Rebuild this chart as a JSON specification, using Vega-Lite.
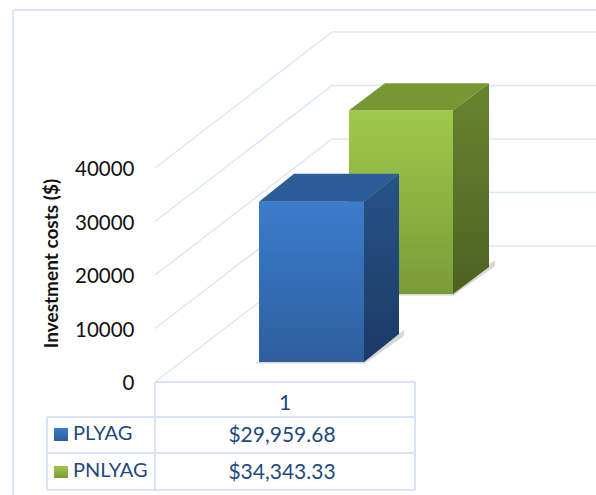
{
"$schema":"https://vega.github.io/schema/vega-lite/v6.json",
"width":441,"height":381,
"autosize":"none",
"padding":{"left":155,"top":1,"right":0,"bottom":113},
"background":"white",
"config":{"view":{"stroke":null}},
"datasets":{
"frame":[
{"h":-142,"h2":441,"v":69533,"v2":69533},
{"h":-142,"h2":-142,"v":69533,"v2":-21122}],
"grid":[
{"level":0,"h":0,"v":0},{"level":0,"h":177,"v":25421},{"level":0,"h":441,"v":25421},
{"level":10000,"h":0,"v":10000},{"level":10000,"h":177,"v":35421},{"level":10000,"h":441,"v":35421},
{"level":20000,"h":0,"v":20000},{"level":20000,"h":177,"v":45421},{"level":20000,"h":441,"v":45421},
{"level":30000,"h":0,"v":30000},{"level":30000,"h":177,"v":55421},{"level":30000,"h":441,"v":55421},
{"level":40000,"h":0,"v":40000},{"level":40000,"h":177,"v":65421},{"level":40000,"h":441,"v":65421}],
"bars":[
{"bar":"PNLYAG","face":"shadowside","h":298,"v":16075,"v2":16822},
{"bar":"PNLYAG","face":"shadowside","h":340,"v":21682,"v2":22804},
{"bar":"PNLYAG","face":"shadowfront","h":194,"h2":298,"v":16150,"v2":16449},
{"bar":"PNLYAG","face":"front","h":194,"h2":298,"v":16449,"v2":50792},
{"bar":"PNLYAG","face":"side","h":298,"v":16449,"v2":50792},
{"bar":"PNLYAG","face":"side","h":334,"v":21496,"v2":55839},
{"bar":"PNLYAG","face":"top","h":194,"h2":298,"v":50792},
{"bar":"PNLYAG","face":"top","h":230,"h2":334,"v":55839},
{"bar":"PLYAG","face":"shadowside","h":209,"v":3364,"v2":4112},
{"bar":"PLYAG","face":"shadowside","h":249,"v":8598,"v2":9720},
{"bar":"PLYAG","face":"shadowfront","h":101,"h2":209,"v":3440,"v2":3738},
{"bar":"PLYAG","face":"front","h":104,"h2":209,"v":3738,"v2":33698},
{"bar":"PLYAG","face":"side","h":209,"v":3738,"v2":33698},
{"bar":"PLYAG","face":"side","h":244,"v":8972,"v2":38932},
{"bar":"PLYAG","face":"top","h":104,"h2":209,"v":33698},
{"bar":"PLYAG","face":"top","h":139,"h2":244,"v":38932}],
"table":[
{"h":0,"h2":260,"v":0,"v2":0},
{"h":-108,"h2":260,"v":-6542,"v2":-6542},
{"h":-108,"h2":260,"v":-13271,"v2":-13271},
{"h":-108,"h2":260,"v":-20187,"v2":-20187},
{"h":-108,"h2":-108,"v":-6542,"v2":-20187},
{"h":0,"h2":0,"v":0,"v2":-20187},
{"h":260,"h2":260,"v":0,"v2":-20187}],
"swatches":[
{"bar":"PLYAG","h":-101,"h2":-87,"v":-8598,"v2":-11028},
{"bar":"PNLYAG","h":-101,"h2":-87,"v":-15701,"v2":-17944}],
"names":[
{"label":"PLYAG","h":-82,"v":-9720},
{"label":"PNLYAG","h":-82,"v":-16635}],
"cells":[
{"label":"1","h":130,"v":-4112},
{"label":"$29,959.68","h":127,"v":-10094},
{"label":"$34,343.33","h":127,"v":-17009}]
},
"encoding":{
"x":{"field":"h","type":"quantitative","axis":null,"scale":{"domain":[0,441],"nice":false,"zero":false}},
"y":{"field":"v","type":"quantitative","scale":{"domain":[0,71215],"nice":false,"zero":false},
"axis":{"values":[0,10000,20000,30000,40000],"format":"d","grid":false,"domain":false,"ticks":false,"labelPadding":21,"labelOffset":1.5,"labelFont":"Lato","labelFontSize":20.5,"labelColor":"#111111",
"title":"Investment costs ($)","titleFont":"Lato","titleFontSize":19,"titleFontWeight":"bold","titleColor":"#111111","titleX":-104,"titleY":262,"titleAngle":-90,"titleAlign":"center","titleBaseline":"middle"}}
},
"layer":[
{"data":{"name":"frame"},"mark":{"type":"rule","stroke":"#DAE7F8","strokeWidth":2},"encoding":{"x2":{"field":"h2"},"y2":{"field":"v2"}}},
{"data":{"name":"grid"},"mark":{"type":"line","stroke":"#DAE7F8","strokeWidth":1.5},"encoding":{"detail":{"field":"level"}}},

{"data":{"name":"bars"},"transform":[{"filter":"datum.bar=='PNLYAG'&&datum.face=='shadowside'"}],"mark":{"type":"area","orient":"vertical","color":"#9a9a9a","opacity":0.4},"encoding":{"y2":{"field":"v2"}}},
{"data":{"name":"bars"},"transform":[{"filter":"datum.bar=='PNLYAG'&&datum.face=='shadowfront'"}],"mark":{"type":"rect","color":"#9a9a9a","opacity":0.4},"encoding":{"x2":{"field":"h2"},"y2":{"field":"v2"}}},
{"data":{"name":"bars"},"transform":[{"filter":"datum.bar=='PNLYAG'&&datum.face=='front'"}],"mark":{"type":"rect","color":{"gradient":"linear","x1":0,"y1":0,"x2":0,"y2":1,"stops":[{"offset":0,"color":"#9FC94A"},{"offset":1,"color":"#7A9B38"}]}},"encoding":{"x2":{"field":"h2"},"y2":{"field":"v2"}}},
{"data":{"name":"bars"},"transform":[{"filter":"datum.bar=='PNLYAG'&&datum.face=='side'"}],"mark":{"type":"area","orient":"vertical","color":{"gradient":"linear","x1":0,"y1":0,"x2":0,"y2":1,"stops":[{"offset":0,"color":"#678530"},{"offset":1,"color":"#4D6122"}]}},"encoding":{"y2":{"field":"v2"}}},
{"data":{"name":"bars"},"transform":[{"filter":"datum.bar=='PNLYAG'&&datum.face=='top'"}],"mark":{"type":"area","orient":"horizontal","color":"#779734"},"encoding":{"x2":{"field":"h2"}}},

{"data":{"name":"bars"},"transform":[{"filter":"datum.bar=='PLYAG'&&datum.face=='shadowside'"}],"mark":{"type":"area","orient":"vertical","color":"#9a9a9a","opacity":0.4},"encoding":{"y2":{"field":"v2"}}},
{"data":{"name":"bars"},"transform":[{"filter":"datum.bar=='PLYAG'&&datum.face=='shadowfront'"}],"mark":{"type":"rect","color":"#9a9a9a","opacity":0.4},"encoding":{"x2":{"field":"h2"},"y2":{"field":"v2"}}},
{"data":{"name":"bars"},"transform":[{"filter":"datum.bar=='PLYAG'&&datum.face=='front'"}],"mark":{"type":"rect","color":{"gradient":"linear","x1":0,"y1":0,"x2":0,"y2":1,"stops":[{"offset":0,"color":"#3B7CCC"},{"offset":1,"color":"#2E5E9E"}]}},"encoding":{"x2":{"field":"h2"},"y2":{"field":"v2"}}},
{"data":{"name":"bars"},"transform":[{"filter":"datum.bar=='PLYAG'&&datum.face=='side'"}],"mark":{"type":"area","orient":"vertical","color":{"gradient":"linear","x1":0,"y1":0,"x2":0,"y2":1,"stops":[{"offset":0,"color":"#275388"},{"offset":1,"color":"#1C3A64"}]}},"encoding":{"y2":{"field":"v2"}}},
{"data":{"name":"bars"},"transform":[{"filter":"datum.bar=='PLYAG'&&datum.face=='top'"}],"mark":{"type":"area","orient":"horizontal","color":"#2C5C99"},"encoding":{"x2":{"field":"h2"}}},

{"data":{"name":"table"},"mark":{"type":"rule","stroke":"#D6E4F5","strokeWidth":2},"encoding":{"x2":{"field":"h2"},"y2":{"field":"v2"}}},
{"data":{"name":"swatches"},"transform":[{"filter":"datum.bar=='PLYAG'"}],"mark":{"type":"rect","color":{"gradient":"linear","x1":0,"y1":0,"x2":0,"y2":1,"stops":[{"offset":0,"color":"#3B7CCC"},{"offset":1,"color":"#2E5E9E"}]}},"encoding":{"x2":{"field":"h2"},"y2":{"field":"v2"}}},
{"data":{"name":"swatches"},"transform":[{"filter":"datum.bar=='PNLYAG'"}],"mark":{"type":"rect","color":{"gradient":"linear","x1":0,"y1":0,"x2":0,"y2":1,"stops":[{"offset":0,"color":"#9FC94A"},{"offset":1,"color":"#7A9B38"}]}},"encoding":{"x2":{"field":"h2"},"y2":{"field":"v2"}}},
{"data":{"name":"names"},"mark":{"type":"text","align":"left","baseline":"middle","font":"Lato","fontSize":20,"color":"#1F497D"},"encoding":{"text":{"field":"label"}}},
{"data":{"name":"cells"},"mark":{"type":"text","align":"center","baseline":"middle","font":"Lato","fontSize":21,"color":"#1F497D"},"encoding":{"text":{"field":"label"}}}
]
}
